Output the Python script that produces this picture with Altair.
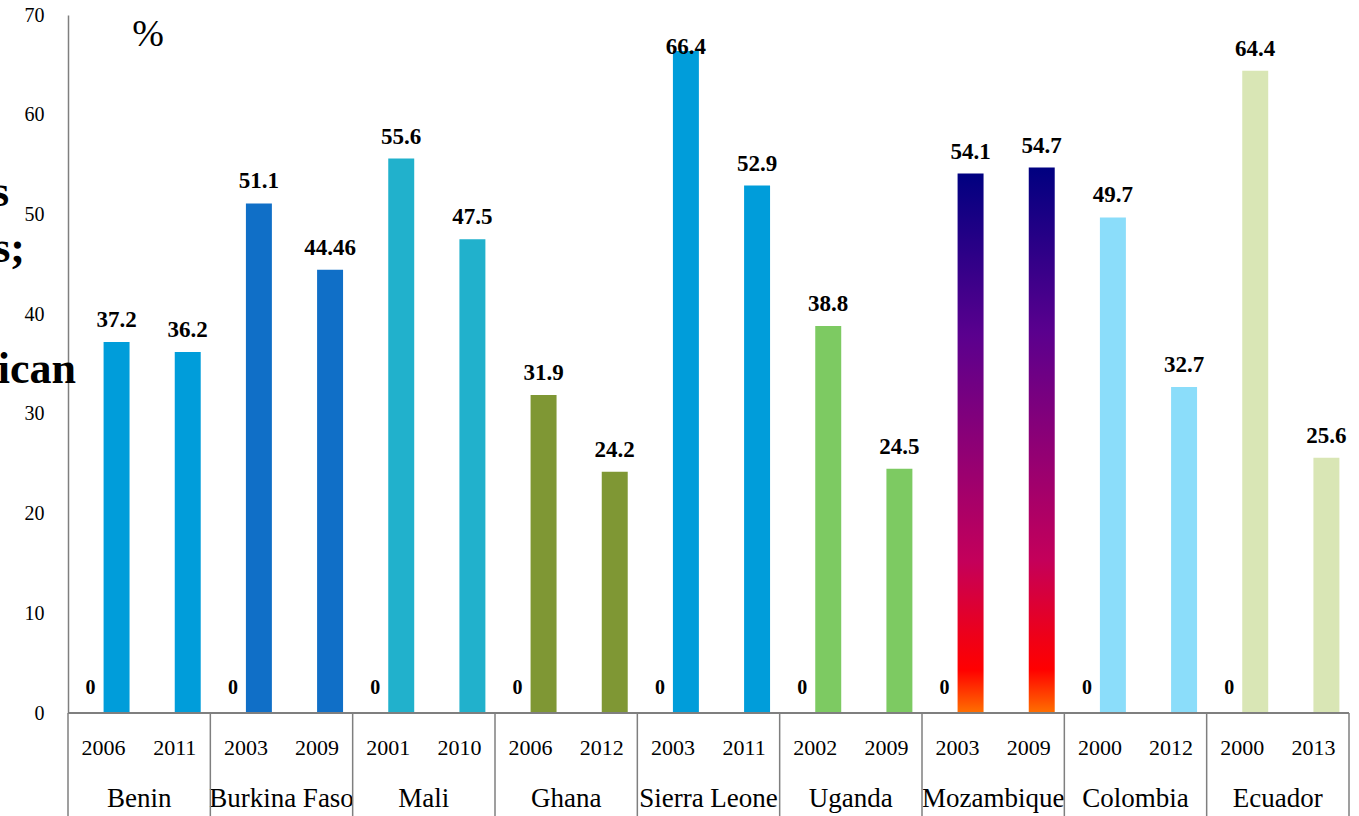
import altair as alt
import pandas as pd

# Survey results: two survey years per country
countries = ["Benin", "Burkina Faso", "Mali", "Ghana", "Sierra Leone",
             "Uganda", "Mozambique", "Colombia", "Ecuador"]
years = [["2006", "2011"], ["2003", "2009"], ["2001", "2010"], ["2006", "2012"],
         ["2003", "2011"], ["2002", "2009"], ["2003", "2009"], ["2000", "2012"],
         ["2000", "2013"]]
values = [[37.2, 36.2], [51.1, 44.46], [55.6, 47.5], [31.9, 24.2], [66.4, 52.9],
          [38.8, 24.5], [54.1, 54.7], [49.7, 32.7], [64.4, 25.6]]
value_labels = [["37.2", "36.2"], ["51.1", "44.46"], ["55.6", "47.5"], ["31.9", "24.2"],
                ["66.4", "52.9"], ["38.8", "24.5"], ["54.1", "54.7"], ["49.7", "32.7"],
                ["64.4", "25.6"]]
bar_colors = ["#009DDA", "#106FC7", "#21B1CC", "#7F9734", "#009DDA",
              "#7DCA62", "#7B0080", "#8BDDFA", "#D9E6B5"]
gradient_country = "Mozambique"
y_ticks = [0, 10, 20, 30, 40, 50, 60, 70]

W, H = 1281, 698
SERIF = "Liberation Serif"
GREY = "#7F7F7F"

rows = []
for i, c in enumerate(countries):
    for j in range(2):
        rows.append({
            "cat": f"{c}|{years[i][j]}",
            "country": c,
            "year": years[i][j],
            "value": values[i][j],
            "label": value_labels[i][j],
            "color": bar_colors[i],
            "first": j == 0,
            "series": "b",
        })
df = pd.DataFrame(rows)
cats = list(df["cat"])

zero_df = pd.DataFrame({"cat": [f"{c}|{years[i][0]}" for i, c in enumerate(countries)],
                        "value": [0] * len(countries), "label": ["0"] * len(countries),
                        "series": ["a"] * len(countries)})
group_df = pd.DataFrame({"country": countries,
                         "pos": [i + 0.5 for i in range(len(countries))]})
bound_df = pd.DataFrame({"b": list(range(len(countries) + 1))})

xband = alt.Scale(domain=cats, paddingInner=0, paddingOuter=0)
xoff = alt.Scale(domain=["a", "b"], paddingInner=0, paddingOuter=0.37)
yscale = alt.Scale(domain=[0, 70], nice=False, zero=True)
gscale = alt.Scale(domain=[0, len(countries)], nice=False, zero=False)

X = alt.X("cat:N", scale=xband, axis=None, sort=cats)
XO = alt.XOffset("series:N", scale=xoff)

bars = alt.Chart(df).transform_filter(
    alt.datum.country != gradient_country
).mark_bar().encode(
    x=X, xOffset=XO,
    y=alt.Y("value:Q", scale=yscale,
            axis=alt.Axis(values=y_ticks, grid=False, ticks=False, title=None,
                          domainColor=GREY, domainWidth=1.5, labelFont=SERIF,
                          labelFontSize=20, labelColor="black", labelPadding=24)),
    color=alt.Color("color:N", scale=None),
)

moz_gradient = alt.Gradient(
    gradient="linear", x1=0, x2=0, y1=0, y2=1,
    stops=[alt.GradientStop(offset=0.0, color="#000080"),
           alt.GradientStop(offset=0.3, color="#5A008E"),
           alt.GradientStop(offset=0.55, color="#990070"),
           alt.GradientStop(offset=0.72, color="#C4005A"),
           alt.GradientStop(offset=0.86, color="#EE0018"),
           alt.GradientStop(offset=0.92, color="#FF0000"),
           alt.GradientStop(offset=1.0, color="#FF7000")])

moz_bars = alt.Chart(df).transform_filter(
    alt.datum.country == gradient_country
).mark_bar(color=moz_gradient).encode(
    x=X, xOffset=XO, y=alt.Y("value:Q", scale=yscale),
)

value_text = alt.Chart(df).transform_calculate(
    ly="min(datum.value, 64.6)"
).mark_text(font=SERIF, fontSize=23, fontWeight="bold", baseline="middle",
            dy=-22, color="black").encode(
    x=X, xOffset=XO, y=alt.Y("ly:Q", scale=yscale), text="label:N",
)

zero_text = alt.Chart(zero_df).mark_text(
    font=SERIF, fontSize=20, fontWeight="bold", baseline="middle", dy=-25, color="black"
).encode(x=X, xOffset=XO, y=alt.Y("value:Q", scale=yscale), text="label:N")

year_text = alt.Chart(df).mark_text(
    font=SERIF, fontSize=22, baseline="middle", color="black"
).encode(x=X, y=alt.value(H + 35), text="year:N")

country_text = alt.Chart(group_df).mark_text(
    font=SERIF, fontSize=27, baseline="middle", color="black"
).encode(x=alt.X("pos:Q", scale=gscale, axis=None), y=alt.value(H + 86),
         text="country:N")

separators = alt.Chart(bound_df).mark_rule(color=GREY, strokeWidth=1.5).encode(
    x=alt.X("b:Q", scale=gscale, axis=None), y=alt.value(H), y2=alt.value(H + 120),
)

baseline_rule = alt.Chart(bound_df).mark_rule(color=GREY, strokeWidth=1.5).encode(
    x=alt.value(0), x2=alt.value(W), y=alt.value(H),
)

percent = alt.Chart(bound_df).transform_filter(alt.datum.b == 0).mark_text(
    font=SERIF, fontSize=38, align="center", baseline="middle", color="black"
).encode(x=alt.value(80), y=alt.value(20), text=alt.value("%"))

side_df = pd.DataFrame({"t": ["s", "s;", "rican"], "px": [-59, -43, 8],
                        "py": [191, 247, 368]})
side_text = alt.Chart(side_df).mark_text(
    font=SERIF, fontSize=44, fontWeight="bold", align="right", baseline="alphabetic",
    color="black"
).encode(x=alt.X("px:Q", scale=None, axis=None), y=alt.Y("py:Q", scale=None, axis=None),
         text="t:N")

chart = alt.layer(
    bars, moz_bars, value_text, zero_text, year_text, country_text,
    separators, baseline_rule, percent, side_text,
).resolve_scale(x="independent").properties(
    width=W, height=H,
    autosize=alt.AutoSizeParams(type="none"),
    padding={"left": 68, "top": 15, "right": 10, "bottom": 103},
    background="white",
).configure_view(stroke=None)

chart.save("out.html", embed_options={"renderer": "svg", "actions": False})
